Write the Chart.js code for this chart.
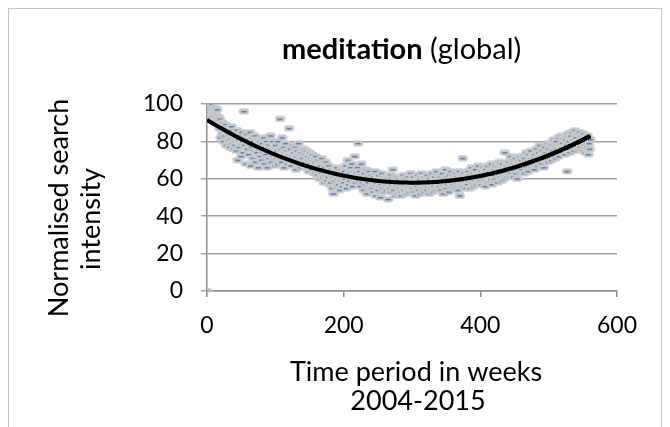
<!DOCTYPE html>
<html>
<head>
<meta charset="utf-8">
<script src="https://cdn.jsdelivr.net/npm/chart.js@4/dist/chart.umd.min.js"></script>
<style>
  body { margin: 0; background: #fff; }
  #wrap { position: relative; width: 670px; height: 427px; overflow: hidden; }
  #frame { position: absolute; left: 8px; top: 8px; width: 652px; height: 460px; border: 1px solid #c4c4c4; border-bottom: none; }
  canvas { position: absolute; left: 0; top: 0; }
</style>
</head>
<body>
<div id="wrap">
  <div id="frame"></div>
  <canvas id="chart" width="670" height="427"></canvas>
</div>
<script>
"use strict"

// weekly search intensity, week 0 .. 561
var intensidad = [
  0, 99, 100, 96, 98, 93, 97, 100, 94, 96, 91, 95, 98, 90, 94, 97, 89, 93, 87, 92,
  82, 88, 84, 90, 80, 86, 83, 89, 78, 85, 87, 81, 84, 77, 86, 82, 88, 79, 83, 76,
  84, 78, 82, 75, 86, 70, 81, 77, 83, 79, 72, 85, 80, 74, 96, 78, 82, 68, 84, 76,
  81, 73, 79, 85, 67, 77, 82, 71, 80, 75, 83, 69, 78, 74, 81, 66, 76, 80, 72, 77,
  70, 79, 74, 82, 68, 77, 73, 80, 66, 75, 78, 71, 76, 83, 69, 74, 80, 72, 77, 67,
  78, 71, 75, 68, 80, 73, 70, 92, 76, 69, 82, 72, 77, 66, 74, 79, 71, 75, 68, 73,
  87, 70, 76, 67, 73, 78, 69, 74, 71, 77, 65, 72, 75, 68, 79, 70, 73, 66, 74, 71,
  71, 76, 67, 73, 69, 75, 66, 72, 70, 64, 74, 68, 71, 65, 73, 67, 70, 63, 69, 72,
  66, 62, 70, 64, 68, 60, 67, 63, 71, 61, 65, 58, 66, 62, 69, 59, 64, 61, 67, 57,
  63, 58, 65, 55, 61, 52, 64, 59, 62, 56, 66, 60, 57, 63, 54, 61, 59, 65, 56, 62,
  58, 64, 60, 67, 55, 62, 70, 57, 63, 59, 66, 61, 68, 56, 64, 60, 72, 58, 63, 61,
  66, 79, 59, 64, 56, 62, 68, 58, 61, 54, 63, 60, 57, 65, 52, 61, 58, 64, 55, 60,
  62, 55, 59, 53, 61, 57, 64, 51, 58, 60, 54, 62, 56, 59, 50, 57, 63, 55, 60, 53,
  58, 61, 54, 60, 56, 49, 59, 55, 62, 53, 57, 60, 65, 54, 58, 51, 61, 56, 59, 52,
  60, 55, 58, 53, 51, 59, 56, 62, 54, 57, 60, 52, 58, 55, 61, 53, 59, 56, 63, 54,
  58, 55, 61, 53, 57, 51, 59, 56, 62, 54, 58, 60, 52, 57, 63, 55, 59, 53, 61, 56,
  59, 54, 62, 56, 58, 52, 60, 57, 55, 63, 53, 59, 56, 61, 54, 58, 64, 55, 57, 60,
  56, 61, 54, 59, 63, 57, 52, 60, 58, 65, 55, 61, 57, 59, 53, 62, 58, 64, 56, 60,
  62, 57, 60, 55, 63, 58, 61, 54, 59, 64, 51, 60, 57, 62, 71, 56, 63, 59, 61, 55,
  61, 57, 64, 59, 62, 55, 60, 66, 58, 63, 56, 61, 59, 65, 57, 62, 60, 67, 58, 63,
  59, 64, 57, 62, 66, 60, 63, 56, 65, 61, 58, 67, 62, 59, 64, 60, 68, 57, 63, 61,
  65, 60, 67, 62, 64, 58, 66, 63, 69, 61, 65, 59, 68, 62, 64, 60, 74, 63, 67, 61,
  64, 69, 62, 67, 72, 63, 66, 70, 61, 68, 65, 71, 63, 67, 60, 69, 66, 72, 64, 68,
  70, 65, 72, 67, 63, 71, 68, 74, 66, 69, 64, 73, 67, 70, 75, 66, 72, 68, 71, 65,
  73, 69, 76, 71, 67, 74, 70, 78, 72, 68, 75, 71, 73, 66, 77, 70, 74, 72, 79, 69,
  76, 72, 79, 74, 70, 78, 75, 81, 73, 77, 71, 80, 76, 74, 82, 72, 78, 75, 83, 77,
  79, 75, 82, 77, 73, 81, 78, 64, 84, 76, 80, 74, 83, 78, 85, 77, 81, 75, 86, 79,
  82, 78, 84, 76, 80, 85, 77, 83, 79, 81, 75, 84, 78, 82, 74, 80, 77, 83, 73, 79,
  76, 81
];

var ticksX = [0, 200, 400, 600];
var ticksY = [0, 20, 40, 60, 80, 100];

var tituloNegrita = "meditation";
var tituloNormal = " (global)";
var tituloY = ["Normalised search", "intensity"];
var tituloX = ["Time period in weeks", "2004-2015"];

var fuente = "Lato, 'Open Sans', sans-serif";

// puntos semana / valor
var puntos = intensidad.map(function (v, i) {
    return { x: i, y: v };
});

// linea de tendencia polinomica (grado 2), minimos cuadrados como Excel
var ajustePolinomio = function (pts) {
    var s = [0, 0, 0, 0, 0], t = [0, 0, 0];
    pts.forEach(function (p) {
        var xk = 1;
        for (var k = 0; k < 5; k++) {
            s[k] += xk;
            if (k < 3) t[k] += xk * p.y;
            xk *= p.x;
        }
    });
    var det3 = function (m) {
        return m[0][0] * (m[1][1] * m[2][2] - m[1][2] * m[2][1])
             - m[0][1] * (m[1][0] * m[2][2] - m[1][2] * m[2][0])
             + m[0][2] * (m[1][0] * m[2][1] - m[1][1] * m[2][0]);
    };
    var M = [[s[0], s[1], s[2]], [s[1], s[2], s[3]], [s[2], s[3], s[4]]];
    var D = det3(M);
    var coef = [];
    for (var c = 0; c < 3; c++) {
        var Mc = M.map(function (fila, r) {
            var f = fila.slice();
            f[c] = t[r];
            return f;
        });
        coef.push(det3(Mc) / D);
    }
    return coef;
};

var coef = ajustePolinomio(puntos);
var tendencia = puntos.map(function (p) {
    return { x: p.x, y: coef[0] + coef[1] * p.x + coef[2] * p.x * p.x };
});

// marcador tipo guion de Excel
var crearMarcador = function () {
    var c = document.createElement('canvas');
    c.width = 11;
    c.height = 7;
    var g = c.getContext('2d');
    g.fillStyle = '#c8c8c8';
    g.beginPath();
    g.roundRect(0.5, 0.5, 10, 6, 2);
    g.fill();
    g.fillStyle = '#4a7ebb';
    g.fillRect(3, 3, 5, 1.5);
    return c;
};

var textos = {
    id: 'textos',
    afterDraw: function (chart) {
        var ctx = chart.ctx;
        ctx.save();
        ctx.fillStyle = '#000';
        ctx.textBaseline = 'alphabetic';

        // titulo
        ctx.textAlign = 'left';
        ctx.font = 'bold 29px ' + fuente;
        var w1 = ctx.measureText(tituloNegrita).width;
        ctx.fillText(tituloNegrita, 282, 59);
        ctx.font = '29px ' + fuente;
        ctx.fillText(tituloNormal, 282 + w1, 59);

        // titulo eje x
        ctx.textAlign = 'center';
        ctx.font = '27px ' + fuente;
        ctx.fillText(tituloX[0], 416, 381);
        ctx.fillText(tituloX[1], 418, 410);

        // titulo eje y
        ctx.save();
        ctx.translate(68, 208);
        ctx.rotate(-Math.PI / 2);
        ctx.fillText(tituloY[0], 0, 0);
        ctx.restore();
        ctx.translate(100, 219);
        ctx.rotate(-Math.PI / 2);
        ctx.fillText(tituloY[1], 0, 0);
        ctx.restore();
    }
};

new Chart(document.getElementById('chart'), {
    type: 'scatter',
    data: {
        datasets: [
            {
                label: 'meditation',
                data: puntos,
                pointStyle: crearMarcador(),
                pointRadius: 5,
                pointHoverRadius: 5,
                order: 2
            },
            {
                type: 'line',
                label: 'tendencia',
                data: tendencia,
                borderColor: '#000',
                borderWidth: 4,
                pointRadius: 0,
                fill: false,
                tension: 0,
                order: 1
            }
        ]
    },
    plugins: [textos],
    options: {
        responsive: false,
        animation: false,
        devicePixelRatio: 1,
        layout: { padding: { top: 104, right: 53, left: 0, bottom: 0 } },
        plugins: {
            legend: { display: false },
            title: { display: false },
            tooltip: { enabled: false }
        },
        scales: {
            x: {
                type: 'linear',
                min: 0,
                max: 600,
                afterBuildTicks: function (s) { s.ticks = ticksX.map(function (v) { return { value: v }; }); },
                afterFit: function (s) { s.height = 136; },
                grid: { drawOnChartArea: false, drawTicks: true, tickLength: 6, color: '#8c8c8c', lineWidth: 1.5 },
                border: { display: true, color: '#8c8c8c', width: 1.5 },
                ticks: { color: '#000', padding: 15, font: { family: fuente, size: 23 }, maxRotation: 0 }
            },
            y: {
                type: 'linear',
                min: 0,
                max: 100,
                afterBuildTicks: function (s) { s.ticks = ticksY.map(function (v) { return { value: v }; }); },
                afterFit: function (s) { s.width = 207; },
                grid: { drawOnChartArea: true, drawTicks: true, tickLength: 6, color: '#a0a0a0', lineWidth: 1.5 },
                border: { display: true, color: '#8c8c8c', width: 1.5 },
                ticks: { color: '#000', padding: 18, font: { family: fuente, size: 23 } }
            }
        }
    }
});
</script>
</body>
</html>
